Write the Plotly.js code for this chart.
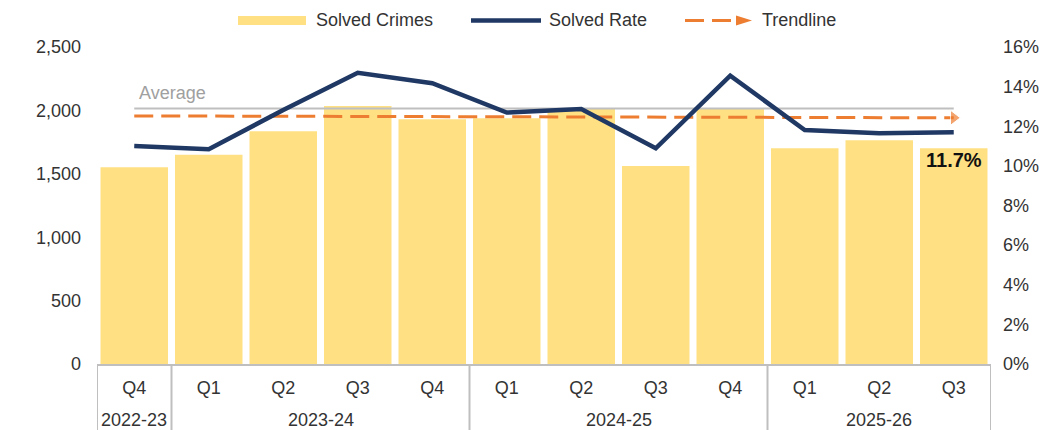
<!DOCTYPE html>
<html>
<head>
<meta charset="utf-8">
<script src="https://cdn.plot.ly/plotly-3.0.1.min.js"></script>
<style>
  html, body { margin: 0; padding: 0; background: #fff; }
  #chart { width: 1040px; height: 430px; }
</style>
</head>
<body>
<div id="chart"></div>
<script>
// ---- Data ----
const fiscalYears = ["2022-23", "2023-24", "2023-24", "2023-24", "2023-24",
                     "2024-25", "2024-25", "2024-25", "2024-25",
                     "2025-26", "2025-26", "2025-26"];
const quarters = ["Q4", "Q1", "Q2", "Q3", "Q4", "Q1", "Q2", "Q3", "Q4", "Q1", "Q2", "Q3"];
const solvedCrimes = [1551, 1651, 1835, 2035, 1930, 1938, 2011, 1561, 2011, 1701, 1764, 1701];
const solvedRate = [11.0, 10.84, 12.82, 14.70, 14.17, 12.69, 12.87, 10.89, 14.55, 11.81, 11.65, 11.7];
const averageRate = 12.9;
const leftTicks = [0, 500, 1000, 1500, 2000, 2500];
const leftTickLabels = ["0", "500", "1,000", "1,500", "2,000", "2,500"];
const rightTicks = [0, 2, 4, 6, 8, 10, 12, 14, 16];
const rightTickLabels = ["0%", "2%", "4%", "6%", "8%", "10%", "12%", "14%", "16%"];

// unique category keys (year + quarter), displayed as the quarter
const catKeys = fiscalYears.map((y, i) => y + " " + quarters[i]);
const n = catKeys.length;

// fiscal-year groups (first/last index of each year)
const groups = [];
fiscalYears.forEach((y, i) => {
  if (!groups.length || groups[groups.length - 1].year !== y) groups.push({ year: y, first: i, last: i });
  else groups[groups.length - 1].last = i;
});

// Linear trendline of the solved rate (least squares)
const idx = solvedRate.map((_, i) => i);
const mx = idx.reduce((a, b) => a + b, 0) / n;
const my = solvedRate.reduce((a, b) => a + b, 0) / n;
let sxy = 0, sxx = 0;
idx.forEach(i => { sxy += (i - mx) * (solvedRate[i] - my); sxx += (i - mx) * (i - mx); });
const slope = sxy / sxx;
const trend = idx.map(i => my + slope * (i - mx));

// ---- Styles ----
const BAR = "#FFE083";
const NAVY = "#1F3864";
const ORANGE = "#ED7D31";
const GRAY = "#BFBFBF";
const TXT = "#333333";
const FONT = "Liberation Sans, Arial, sans-serif";

// plot area in pixels
const L = 97, R = 49, T = 47, B = 66, W = 1040, H = 430;
const pw = W - L - R, ph = H - T - B;
const px = x => (x - L) / pw;
const py = y => (H - B - y) / ph;

const traces = [
  {
    type: "bar", x: catKeys, y: solvedCrimes, name: "Solved Crimes",
    marker: { color: BAR }, showlegend: false, hoverinfo: "y"
  },
  {
    type: "scatter", mode: "lines", x: catKeys, y: solvedRate.map(() => averageRate),
    yaxis: "y2", line: { color: GRAY, width: 2 }, showlegend: false, hoverinfo: "skip"
  },
  {
    type: "scatter", mode: "lines+markers", x: catKeys, y: trend, yaxis: "y2",
    name: "Trendline", line: { color: ORANGE, width: 3, dash: "19px,8px" },
    marker: { symbol: "triangle-right", color: ORANGE,
              size: trend.map((_, i) => i === n - 1 ? 13 : 0) },
    showlegend: false, hoverinfo: "skip"
  },
  {
    type: "scatter", mode: "lines", x: catKeys, y: solvedRate, yaxis: "y2",
    name: "Solved Rate", line: { color: NAVY, width: 4.5 }, showlegend: false
  }
];

// legend drawn manually + category group dividers
const shapes = [
  { type: "rect", xref: "paper", yref: "paper",
    x0: px(238), x1: px(306), y0: py(25), y1: py(16), fillcolor: BAR, line: { width: 0 } },
  { type: "line", xref: "paper", yref: "paper",
    x0: px(471), x1: px(541), y0: py(20.5), y1: py(20.5), line: { color: NAVY, width: 4.5 } },
  { type: "line", xref: "paper", yref: "paper",
    x0: px(685), x1: px(738), y0: py(20.5), y1: py(20.5), line: { color: ORANGE, width: 3, dash: "19px,8px" } },
  { type: "path", xref: "paper", yref: "paper",
    path: `M ${px(736)} ${py(15.5)} L ${px(752)} ${py(20.5)} L ${px(736)} ${py(25.5)} Z`,
    fillcolor: ORANGE, line: { width: 0 } }
];
const boundaries = [groups[0].first - 0.5].concat(groups.map(g => g.last + 0.5));
boundaries.forEach(b => shapes.push({
  type: "line", xref: "x", yref: "paper", x0: b, x1: b, y0: 0, y1: py(H + 2),
  line: { color: GRAY, width: 2 }
}));

const annotations = [
  { xref: "paper", yref: "paper", x: px(314), y: py(20), xanchor: "left", yanchor: "middle",
    text: "Solved Crimes", showarrow: false, font: { family: FONT, size: 18, color: TXT } },
  { xref: "paper", yref: "paper", x: px(547), y: py(20), xanchor: "left", yanchor: "middle",
    text: "Solved Rate", showarrow: false, font: { family: FONT, size: 18, color: TXT } },
  { xref: "paper", yref: "paper", x: px(760), y: py(20), xanchor: "left", yanchor: "middle",
    text: "Trendline", showarrow: false, font: { family: FONT, size: 18, color: TXT } },
  { xref: "x", yref: "y2", x: 0, y: averageRate, xanchor: "left", yanchor: "bottom",
    xshift: 3, yshift: 3, text: "Average", showarrow: false,
    font: { family: FONT, size: 18, color: "#A0A0A0" } },
  { xref: "x", yref: "y", x: n - 1, y: solvedCrimes[n - 1], xanchor: "center", yanchor: "top",
    yshift: 1, text: "<b>" + solvedRate[n - 1].toFixed(1) + "%</b>", showarrow: false,
    font: { family: FONT, size: 20, color: "#111111" } }
];
groups.forEach(g => annotations.push({
  xref: "x", yref: "paper", x: (g.first + g.last) / 2, y: py(420), xanchor: "center", yanchor: "middle",
  text: g.year, showarrow: false, font: { family: FONT, size: 18, color: TXT }
}));

const layout = {
  width: W, height: H,
  margin: { l: L, r: R, t: T, b: B, pad: 0 },
  paper_bgcolor: "#ffffff", plot_bgcolor: "#ffffff",
  font: { family: FONT, size: 18, color: TXT },
  showlegend: false,
  bargap: 0.094,
  xaxis: {
    type: "category", categoryorder: "array", categoryarray: catKeys,
    range: [-0.5, n - 0.5], autorange: false,
    tickvals: catKeys, ticktext: quarters,
    showgrid: false, zeroline: false,
    showline: true, linecolor: GRAY, linewidth: 2,
    ticks: "", ticklabelstandoff: 6, tickfont: { family: FONT, size: 18, color: TXT }
  },
  yaxis: {
    range: [0, 2500], tickvals: leftTicks, ticktext: leftTickLabels,
    showgrid: false, zeroline: false, showline: false, ticks: "",
    ticklabelstandoff: 15, tickfont: { family: FONT, size: 18, color: TXT }
  },
  yaxis2: {
    overlaying: "y", side: "right", range: [0, 16], tickvals: rightTicks, ticktext: rightTickLabels,
    showgrid: false, zeroline: false, showline: false, ticks: "",
    ticklabelstandoff: 11, tickfont: { family: FONT, size: 18, color: TXT }
  },
  shapes: shapes,
  annotations: annotations
};

Plotly.newPlot("chart", traces, layout, { displayModeBar: false, staticPlot: true });
</script>
</body>
</html>
